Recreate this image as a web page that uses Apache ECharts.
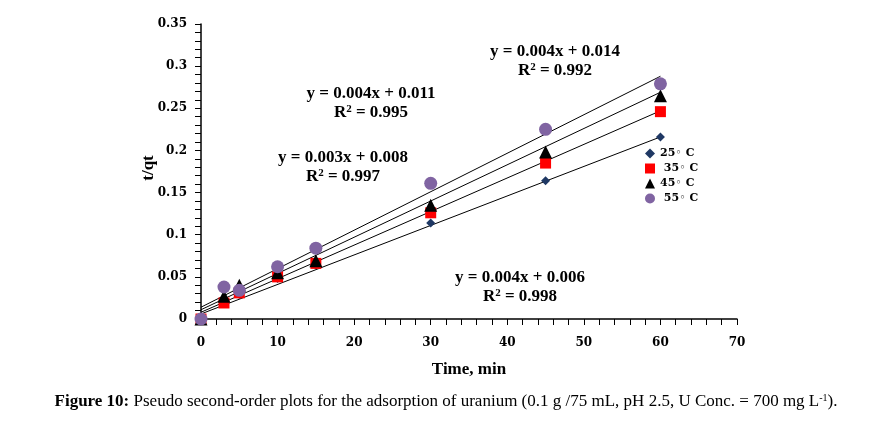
<!DOCTYPE html>
<html>
<head>
<meta charset="utf-8">
<script src="https://cdn.jsdelivr.net/npm/echarts@6/dist/echarts.min.js"></script>
<style>html,body{margin:0;padding:0;background:#fff;}#c{width:889px;height:429px;}</style>
</head>
<body>
<div id="c"></div>
<script>
var times = [0, 3, 5, 10, 15, 30, 45, 60];
var seriesNames = ['25\u25E6 C', ' 35\u25E6 C', '45\u25E6 C', ' 55\u25E6 C'];
var t25 = [0, 0.020, 0.029, 0.048, 0.064, 0.114, 0.164, 0.216];
var t35 = [0, 0.019, 0.031, 0.050, 0.066, 0.126, 0.185, 0.246];
var t45 = [0, 0.027, 0.040, 0.055, 0.069, 0.135, 0.198, 0.265];
var t55 = [0, 0.038, 0.034, 0.062, 0.084, 0.161, 0.225, 0.279];
var trendX = [0, 60];
var trend25 = [0.006, 0.216];
var trend35 = [0.008, 0.247];
var trend45 = [0.011, 0.269];
var trend55 = [0.014, 0.288];
var equations = [
  ['y = 0.004x + 0.006', '0.998'],
  ['y = 0.003x + 0.008', '0.997'],
  ['y = 0.004x + 0.011', '0.995'],
  ['y = 0.004x + 0.014', '0.992']
];
var yAxisTitle = 't/qt';
var captionBold = 'Figure 10:';
var captionText = ' Pseudo second-order plots for the adsorption of uranium (0.1 g /75 mL, pH 2.5, U Conc. = 700 mg L';

var SERIF = '"Liberation Serif", "DejaVu Serif", serif';
var DSERIF = '"DejaVu Serif", serif';
function pairs(xs, ys){ return xs.map(function(x,i){ return [x, ys[i]]; }); }

var chart = echarts.init(document.getElementById('c'), null, {renderer:'canvas'});
var trends = [trend25, trend35, trend45, trend55];
var pts = [t25, t35, t45, t55];
var symbols = ['diamond', 'rect', 'triangle', 'circle'];
var sizes = [9, 11, 13, 13];
var colors = ['#1F3864', '#FF0000', '#000000', '#8064A2'];

var series = [];
trends.forEach(function(tr){
  series.push({type:'line', data: pairs(trendX, tr), symbol:'none', silent:true,
    lineStyle:{color:'#000', width:1}, z:2, clip:false});
});
pts.forEach(function(p, i){
  series.push({type:'scatter', name: seriesNames[i], data: pairs(times, p), symbol: symbols[i],
    symbolSize: sizes[i], itemStyle:{color: colors[i], opacity:1}, z:3+i, clip:false});
});

function eqText(e, cx, cy){
  return [
    {type:'text', x:cx, y:cy, style:{text:e[0], font:'bold 17px '+SERIF, fill:'#000', align:'center', verticalAlign:'middle'}},
    {type:'text', x:cx, y:cy+19, style:{rich:{n:{font:'bold 17px '+SERIF, fill:'#000'}, s:{font:'bold 11px '+SERIF, fill:'#000', verticalAlign:'top', padding:[0,0,7,0]}},
      text:'{n|R}{s|2}{n| = '+e[1]+'}', align:'center', verticalAlign:'middle'}}
  ];
}

var graphics = [].concat(
  eqText(equations[3], 555, 52),
  eqText(equations[2], 371, 94),
  eqText(equations[1], 343, 158),
  eqText(equations[0], 520, 278),
  [{type:'text', x:149, y:168, rotation:Math.PI/2, style:{text:yAxisTitle, font:'bold 17px '+SERIF, fill:'#000', align:'center', verticalAlign:'middle'}},
   {type:'text', x:446, y:402, style:{rich:{b:{font:'bold 17px '+SERIF, fill:'#000'}, r:{font:'17px '+SERIF, fill:'#000'}, s:{font:'10px '+SERIF, fill:'#000', verticalAlign:'top', padding:[0,0,8,0]}},
    text:'{b|'+captionBold+'}{r|'+captionText+'}{s|-1}{r|).}', align:'center', verticalAlign:'middle'}}]
);

chart.setOption({
  animation:false,
  backgroundColor:'#fff',
  grid:{left:201, right:152, top:24, bottom:110, containLabel:false},
  xAxis:{type:'value', min:0, max:70, interval:10, name:'Time, min', nameLocation:'middle', nameGap:42,
    nameTextStyle:{fontFamily:SERIF, fontWeight:'bold', fontSize:17, color:'#000'},
    axisLine:{show:true, onZero:false, lineStyle:{color:'#000', width:1.5}},
    axisTick:{show:true, inside:false, length:6, lineStyle:{color:'#000'}},
    minorTick:{show:true, splitNumber:5, length:6, lineStyle:{color:'#000'}},
    splitLine:{show:false},
    axisLabel:{fontFamily:DSERIF, fontWeight:'bold', fontSize:12, color:'#000', margin:18}},
  yAxis:{type:'value', min:0, max:0.35, interval:0.05,
    axisLine:{show:true, onZero:false, lineStyle:{color:'#000', width:1.5}},
    axisTick:{show:true, inside:false, length:6, lineStyle:{color:'#000'}},
    minorTick:{show:true, splitNumber:5, length:6, lineStyle:{color:'#000'}},
    splitLine:{show:false},
    axisLabel:{fontFamily:DSERIF, fontWeight:'bold', fontSize:12, color:'#000', margin:14,
      formatter:function(v){ return String(+v.toFixed(2)); }}},
  legend:{orient:'vertical', left:640, top:143, itemWidth:10, itemHeight:10, itemGap:4,
    data: seriesNames,
    textStyle:{fontFamily:DSERIF, fontWeight:'bold', fontSize:11, color:'#000'}},
  graphic: graphics,
  series: series
});
</script>
</body>
</html>
